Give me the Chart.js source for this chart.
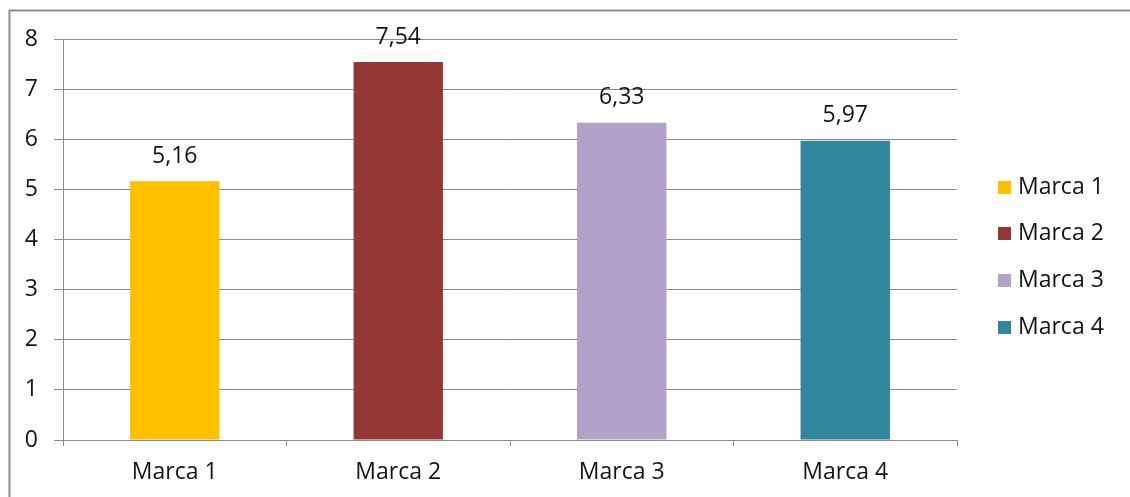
<!DOCTYPE html>
<html>
<head>
<meta charset="utf-8">
<script src="https://cdn.jsdelivr.net/npm/chart.js@4/dist/chart.umd.min.js"></script>
<style>
  html, body { margin: 0; padding: 0; background: #ffffff; }
  #wrap { width: 1130px; height: 497px; position: relative; }
</style>
</head>
<body>
<div id="wrap"><canvas id="c" width="1130" height="497"></canvas></div>
<script>
// Categories and values for each brand
const categories = ['Marca 1', 'Marca 2', 'Marca 3', 'Marca 4'];
const values = [5.16, 7.54, 6.33, 5.97];
const barColors = ['#FFC000', '#953735', '#B3A2C7', '#31859C'];
const yTicks = [0, 1, 2, 3, 4, 5, 6, 7, 8];

const FONT = '"Open Sans", "Noto Sans", sans-serif';
const FSIZE = 23;
const TEXT = '#141414';
const GRID = '#8a8a8a';

// Outer frame of the chart
const framePlugin = {
  id: 'frame',
  beforeDraw(chart) {
    const ctx = chart.ctx;
    ctx.save();
    ctx.fillStyle = '#ffffff';
    ctx.fillRect(0, 0, chart.width, chart.height);
    ctx.strokeStyle = '#8c8c8c';
    ctx.lineWidth = 2;
    ctx.strokeRect(9.5, 10.5, chart.width + 20, chart.height + 20);
    ctx.restore();
  }
};

// Value labels above each bar, with decimal comma
const valueLabels = {
  id: 'valueLabels',
  afterDatasetsDraw(chart) {
    const ctx = chart.ctx;
    const meta = chart.getDatasetMeta(0);
    ctx.save();
    ctx.font = FSIZE + 'px ' + FONT;
    ctx.fillStyle = TEXT;
    ctx.textAlign = 'center';
    ctx.textBaseline = 'middle';
    meta.data.forEach((bar, i) => {
      const txt = values[i].toFixed(2).replace('.', ',');
      ctx.fillText(txt, bar.x, bar.y - 25);
    });
    ctx.restore();
  }
};

// Legend on the right: one entry per brand
const sideLegend = {
  id: 'sideLegend',
  afterDraw(chart) {
    const ctx = chart.ctx;
    const x0 = 998, y0 = 187, step = 46.7, box = 13;
    ctx.save();
    ctx.font = FSIZE + 'px ' + FONT;
    ctx.textAlign = 'left';
    ctx.textBaseline = 'middle';
    categories.forEach((name, i) => {
      const cy = y0 + i * step;
      ctx.fillStyle = barColors[i];
      ctx.fillRect(x0, Math.round(cy - box / 2), box, box);
      ctx.fillStyle = TEXT;
      ctx.fillText(name, x0 + 20, cy);
    });
    ctx.restore();
  }
};

new Chart(document.getElementById('c'), {
  type: 'bar',
  data: {
    labels: categories,
    datasets: [{
      data: values,
      backgroundColor: barColors,
      borderWidth: 0,
      barPercentage: 0.4,
      categoryPercentage: 1.0
    }]
  },
  options: {
    responsive: false,
    animation: false,
    devicePixelRatio: 1,
    layout: { padding: { left: 12, right: 173, top: 39, bottom: 0 } },
    plugins: {
      legend: { display: false },
      tooltip: { enabled: false }
    },
    scales: {
      x: {
        offset: true,
        grid: {
          offset: true,
          drawOnChartArea: false,
          drawTicks: true,
          tickLength: 6,
          color: GRID,
          lineWidth: 1
        },
        border: { color: GRID, width: 1 },
        ticks: {
          color: TEXT,
          font: { family: FONT, size: FSIZE },
          padding: 13,
          maxRotation: 0
        },
        afterFit(scale) {
          scale.height = 497 - 440;
          scale.paddingLeft = 0;
          scale.paddingRight = 0;
        }
      },
      y: {
        min: 0,
        max: 8,
        afterBuildTicks(scale) {
          scale.ticks = yTicks.map(v => ({ value: v }));
        },
        grid: {
          color: GRID,
          lineWidth: 1,
          tickLength: 9,
          drawTicks: true
        },
        border: { color: GRID, width: 1 },
        ticks: {
          color: TEXT,
          font: { family: FONT, size: FSIZE },
          padding: 16
        },
        afterFit(scale) {
          scale.width = 63 - 12;
          scale.paddingTop = 0;
          scale.paddingBottom = 0;
        }
      }
    }
  },
  plugins: [framePlugin, valueLabels, sideLegend]
});
</script>
</body>
</html>
